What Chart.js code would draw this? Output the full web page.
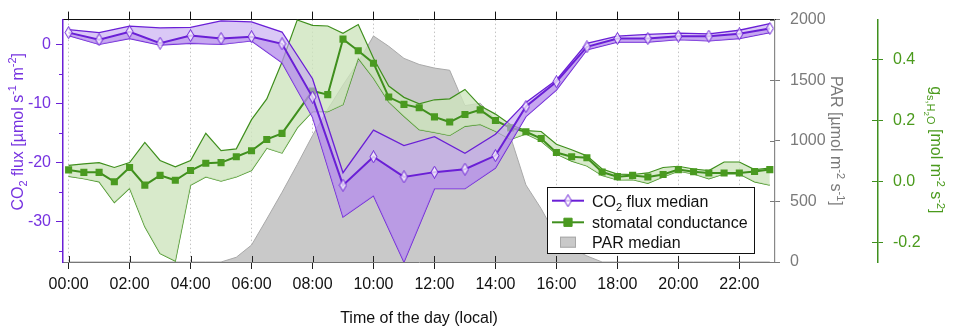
<!DOCTYPE html>
<html>
<head>
<meta charset="utf-8">
<script src="https://cdn.jsdelivr.net/npm/chart.js@4.4.1/dist/chart.umd.min.js"></script>
<style>
  html, body { margin: 0; padding: 0; background: #fff; }
  #wrap { width: 957px; height: 330px; position: relative; }
</style>
</head>
<body>
<div id="wrap"><canvas id="chart"></canvas></div>
<script>
// hourly CO2 flux (median and band)
const co2Hours = [0,1,2,3,4,5,6,7,8,9,10,11,12,13,14,15,16,17,18,19,20,21,22,23];
const co2Median = [2.0,0.8,2.15,0.2,1.5,1.0,1.3,0.1,-8.9,-23.8,-19.0,-22.4,-21.6,-21.1,-18.8,-10.5,-6.3,-0.4,1.0,1.0,1.4,1.4,1.8,2.7];
const co2Upper = [2.5,2.0,3.1,2.8,2.9,4.0,3.8,2.1,-5.8,-21.7,-14.5,-17.1,-15.6,-18.4,-15.2,-9.8,-6.0,0.2,1.4,1.7,1.9,1.8,2.4,3.5];
const co2Lower = [1.5,0.0,1.0,-0.1,0.2,0.0,0.6,-3.1,-12.3,-29.2,-25.6,-36.8,-24.4,-24.4,-20.9,-12.2,-7.7,-0.9,0.4,0.4,0.8,0.6,1.0,2.0];

// half-hourly stomatal conductance and PAR
const halfHours = [0,0.5,1,1.5,2,2.5,3,3.5,4,4.5,5,5.5,6,6.5,7,7.5,8,8.5,9,9.5,10,10.5,11,11.5,12,12.5,13,13.5,14,14.5,15,15.5,16,16.5,17,17.5,18,18.5,19,19.5,20,20.5,21,21.5,22,22.5,23];
const gsMedian = [0.037,0.029,0.029,-0.002,0.045,-0.013,0.019,0.003,0.035,0.059,0.061,0.080,0.100,0.137,0.157,null,0.296,0.284,0.466,0.428,0.387,0.276,0.252,0.241,0.211,0.194,0.219,0.234,0.199,0.175,0.162,0.140,0.094,0.080,0.077,0.030,0.015,0.019,0.014,0.022,0.038,0.031,0.027,0.027,0.027,0.032,0.038];
const gsUpper = [0.052,0.057,0.061,0.045,0.061,0.127,0.068,0.047,0.068,0.157,0.100,0.106,0.202,0.270,0.391,0.529,0.511,0.509,0.485,0.514,0.403,0.312,0.275,0.254,0.267,0.270,0.301,0.247,0.220,0.185,0.166,0.163,0.121,0.103,0.083,0.040,0.023,0.022,0.027,0.045,0.049,0.040,0.035,0.063,0.063,0.038,0.043];
const gsLower = [0.016,0.008,-0.002,-0.070,-0.023,-0.149,-0.237,-0.262,-0.013,0.014,0.000,0.014,0.035,0.108,0.092,0.175,0.228,0.228,0.251,0.403,0.338,0.260,0.213,0.169,0.160,0.150,0.180,0.186,0.164,0.137,0.155,0.131,0.089,0.066,0.050,0.019,0.004,0.005,-0.007,0.014,0.033,0.024,0.008,0.024,0.024,-0.002,-0.013];
const parMedian = [0,0,0,0,0,0,0,0,0,0,0,39,140,355,575,805,1043,1260,1460,1650,1865,1780,1680,1630,1600,1582,1290,1310,1175,1030,636,440,210,115,50,0,0,0,0,0,0,0,0,0,0,0,0];

// ticks
const timeTicks = [0,2,4,6,8,10,12,14,16,18,20,22];
const timeLabels = ['00:00','02:00','04:00','06:00','08:00','10:00','12:00','14:00','16:00','18:00','20:00','22:00'];
const co2Ticks = [-30,-20,-10,0];
const co2MinorTicks = [-35,-25,-15,-5];
const parTicks = [0,500,1000,1500,2000];
const gsTicks = [-0.2,0.0,0.2,0.4];

// titles / legend text
const xTitle = [['Time of the day (local)']];
const co2Title = [['CO'],['2','sub'],[' flux [µmol s'],['-1','sup'],[' m'],['-2','sup'],[']']];
const parTitle = [['PAR [µmol m'],['-2','sup'],[' s'],['-1','sup'],[']']];
const gsTitle = [['g'],['s,H','sub'],['2','sub2'],['O','sub'],[' [mol m'],['-2','sup'],[' s'],['-2','sup'],[']']];
const legendLabels = [[['CO'],['2','sub'],[' flux median']], [['stomatal conductance']], [['PAR median']]];

const FONT = '"Liberation Sans", Arial, Helvetica, sans-serif';
const purple = '#6a1fd6';
const purpleText = '#7632e0';
const green = '#3f8f1d';
const greenText = '#4a9a1c';
const grey = '#7a7a7a';

Chart.defaults.font.family = FONT;
Chart.defaults.font.size = 16;

function pts(xs, ys) {
  return xs.map((x, i) => ({ x: x, y: ys[i] }));
}

// tall open diamond marker
const diamond = (() => {
  const c = document.createElement('canvas');
  c.width = 9; c.height = 13;
  const g = c.getContext('2d');
  g.beginPath();
  g.moveTo(4.5, 0.5); g.lineTo(8, 6.5); g.lineTo(4.5, 12.5); g.lineTo(1, 6.5); g.closePath();
  g.fillStyle = 'rgba(255,255,255,0.7)';
  g.fill();
  g.strokeStyle = purple;
  g.lineWidth = 1;
  g.stroke();
  return c;
})();

function richText(ctx, parts, x, y, rot, color, align) {
  const sizes = { sub: 11, sup: 11, sub2: 8 };
  const shift = { sub: 4, sup: -6.5, sub2: 7 };
  const font = k => (sizes[k] || 16) + 'px ' + FONT;
  ctx.save();
  ctx.translate(x, y);
  ctx.rotate(rot);
  ctx.fillStyle = color;
  ctx.textAlign = 'left';
  ctx.textBaseline = 'alphabetic';
  let w = 0;
  parts.forEach(p => { ctx.font = font(p[1]); w += ctx.measureText(p[0]).width; });
  let cx = align === 'left' ? 0 : -w / 2;
  parts.forEach(p => {
    ctx.font = font(p[1]);
    ctx.fillText(p[0], cx, 5.8 + (shift[p[1]] || 0));
    cx += ctx.measureText(p[0]).width;
  });
  ctx.restore();
}

function line(ctx, x1, y1, x2, y2, color) {
  ctx.strokeStyle = color;
  ctx.beginPath();
  ctx.moveTo(x1, y1);
  ctx.lineTo(x2, y2);
  ctx.stroke();
}

// inner halves of crossing ticks and the short minor ticks
const tickMarks = {
  id: 'tickMarks',
  afterDraw(chart) {
    const ctx = chart.ctx, s = chart.scales;
    ctx.save();
    ctx.lineWidth = 1;
    timeTicks.forEach(v => {
      const px = Math.round(s.x.getPixelForValue(v)) + 0.5;
      line(ctx, px, s.x.top, px, s.x.top - 6, '#222');
    });
    co2MinorTicks.forEach(v => {
      const py = Math.round(s.y.getPixelForValue(v)) + 0.5;
      line(ctx, s.y.right - 4, py, s.y.right, py, purple);
    });
    parTicks.forEach(v => {
      const py = Math.round(s.yPar.getPixelForValue(v)) + 0.5;
      line(ctx, s.yPar.left - 5, py, s.yPar.left, py, grey);
    });
    gsTicks.forEach(v => {
      const py = Math.round(s.yGs.getPixelForValue(v)) + 0.5;
      line(ctx, s.yGs.left - 6, py, s.yGs.left, py, green);
    });
    ctx.restore();
  }
};

const axisTitles = {
  id: 'axisTitles',
  afterDraw(chart) {
    const ctx = chart.ctx, ca = chart.chartArea;
    const midY = (ca.top + ca.bottom) / 2;
    richText(ctx, xTitle, (ca.left + ca.right) / 2, chart.height - 13, 0, '#111');
    richText(ctx, co2Title, 17, midY - 9, -Math.PI / 2, purpleText);
    richText(ctx, parTitle, chart.scales.yPar.left + 61.5, midY, Math.PI / 2, grey);
    richText(ctx, gsTitle, chart.scales.yGs.left + 58.5, midY + 9, Math.PI / 2, greenText);
  }
};

const boxLegend = {
  id: 'boxLegend',
  afterDraw(chart) {
    const ctx = chart.ctx, ca = chart.chartArea;
    const left = ca.right - 228, top = ca.bottom - 75;
    const rows = [top + 13.7, top + 35.3, top + 54.7];
    ctx.save();
    ctx.fillStyle = '#fff';
    ctx.fillRect(left, top, 207, 66);
    ctx.strokeStyle = '#111';
    ctx.lineWidth = 1;
    ctx.strokeRect(left + 0.5, top + 0.5, 207, 66);

    ctx.lineWidth = 2;
    line(ctx, left + 5, rows[0], left + 37, rows[0], purple);
    Chart.helpers.drawPoint(ctx, { pointStyle: diamond, radius: 6, rotation: 0, borderWidth: 1 }, left + 21, rows[0]);

    line(ctx, left + 5, rows[1], left + 37, rows[1], green);
    ctx.fillStyle = '#4a9a20';
    ctx.strokeStyle = '#4a9a20';
    ctx.lineWidth = 1;
    Chart.helpers.drawPoint(ctx, { pointStyle: 'rect', radius: 5.8, rotation: 0, borderWidth: 1 }, left + 21, rows[1]);

    ctx.fillStyle = '#c9c9c9';
    ctx.fillRect(left + 13, rows[2] - 5, 16, 11);
    ctx.strokeStyle = '#a8a8a8';
    ctx.strokeRect(left + 13.5, rows[2] - 4.5, 15, 10);

    legendLabels.forEach((parts, i) => richText(ctx, parts, left + 45, rows[i], 0, '#111', 'left'));
    ctx.restore();
  }
};

const xMin = -0.184, xMax = 23.17;
const setTicks = list => scale => { scale.ticks = list.map(v => ({ value: v })); };

new Chart(document.getElementById('chart'), {
  type: 'line',
  data: {
    datasets: [
      { // CO2 median, fill down to the lower bound
        data: pts(co2Hours, co2Median), yAxisID: 'y',
        borderColor: purple, borderWidth: 2,
        pointStyle: diamond, pointRadius: 6,
        fill: 2, backgroundColor: 'rgba(182,142,236,0.78)'
      },
      { // CO2 upper bound, fill down to the median
        data: pts(co2Hours, co2Upper), yAxisID: 'y',
        borderColor: purple, borderWidth: 1.3, pointRadius: 0,
        fill: 0, backgroundColor: 'rgba(196,166,240,0.62)'
      },
      {
        data: pts(co2Hours, co2Lower), yAxisID: 'y',
        borderColor: purple, borderWidth: 1.3, pointRadius: 0, fill: false
      },
      { // stomatal conductance median
        data: pts(halfHours, gsMedian), yAxisID: 'yGs',
        borderColor: green, borderWidth: 2, spanGaps: true,
        pointStyle: 'rect', pointRadius: 3.6,
        pointBackgroundColor: '#4a9a20', pointBorderColor: '#4a9a20', fill: false
      },
      {
        data: pts(halfHours, gsUpper), yAxisID: 'yGs',
        borderColor: green, borderWidth: 1.2, pointRadius: 0,
        fill: 5, backgroundColor: 'rgba(205,228,188,0.78)'
      },
      {
        data: pts(halfHours, gsLower), yAxisID: 'yGs',
        borderColor: green, borderWidth: 1.2, pointRadius: 0, fill: false
      },
      { // PAR median area
        data: pts(halfHours, parMedian), yAxisID: 'yPar',
        borderColor: '#a9a9a9', borderWidth: 1, pointRadius: 0,
        fill: 'origin', backgroundColor: '#c9c9c9'
      }
    ]
  },
  options: {
    responsive: true,
    maintainAspectRatio: false,
    animation: false,
    layout: { padding: 0 },
    elements: { line: { tension: 0 } },
    plugins: { legend: { display: false }, tooltip: { enabled: false } },
    scales: {
      x: {
        type: 'linear', position: 'bottom', min: xMin, max: xMax,
        afterBuildTicks: setTicks(timeTicks),
        afterFit: s => { s.height = 68; },
        ticks: {
          callback: v => timeLabels[timeTicks.indexOf(v)] || '',
          autoSkip: false, maxRotation: 0, padding: 6, color: '#111'
        },
        grid: { color: '#c4c4c4', lineWidth: 1, tickLength: 7, tickColor: '#222' },
        border: { color: '#777', width: 1, dash: [1.5, 2.5] }
      },
      xTop: {
        type: 'linear', position: 'top', min: xMin, max: xMax,
        afterBuildTicks: setTicks(timeTicks),
        afterFit: s => { s.height = 8.5; },
        ticks: { display: false },
        grid: { drawOnChartArea: false, tickLength: 8, tickColor: '#111' },
        border: { color: '#111', width: 1 }
      },
      y: {
        type: 'linear', position: 'left', min: -36.8, max: 4.2,
        afterBuildTicks: setTicks(co2Ticks),
        afterFit: s => { s.width = 63; },
        ticks: { callback: v => String(v), color: purpleText, padding: 5 },
        grid: { drawOnChartArea: false, tickLength: 7, tickColor: purple },
        border: { color: purple, width: 1.5 }
      },
      yPar: {
        type: 'linear', position: 'right', weight: 0, min: 0, max: 2000,
        afterBuildTicks: setTicks(parTicks),
        afterFit: s => { s.width = 103; },
        ticks: { callback: v => String(v), color: grey, padding: 10 },
        grid: { drawOnChartArea: false, tickLength: 5, tickColor: grey },
        border: { color: '#888', width: 1.2 }
      },
      yGs: {
        type: 'linear', position: 'right', weight: 1, min: -0.265, max: 0.53,
        afterBuildTicks: setTicks(gsTicks),
        afterFit: s => { s.width = 79; },
        ticks: { callback: v => v.toFixed(1), color: greenText, padding: 10 },
        grid: { drawOnChartArea: false, tickLength: 5, tickColor: green },
        border: { color: green, width: 1.5 }
      }
    }
  },
  plugins: [tickMarks, axisTitles, boxLegend]
});
</script>
</body>
</html>
